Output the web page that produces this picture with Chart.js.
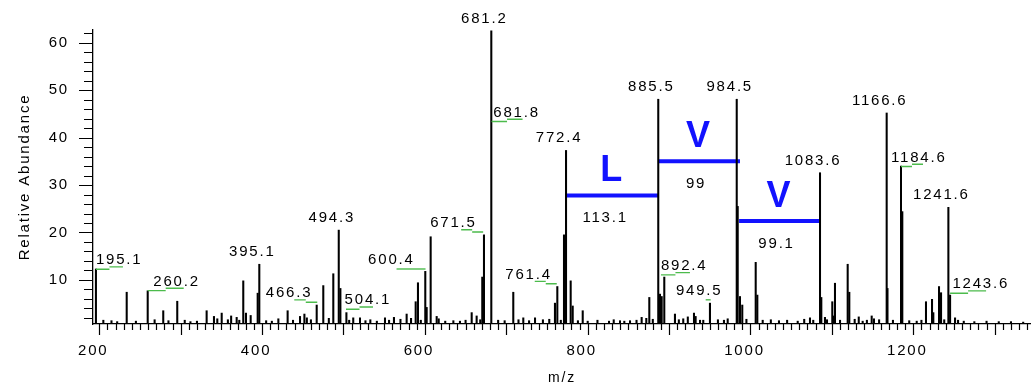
<!DOCTYPE html>
<html>
<head>
<meta charset="utf-8">
<script src="https://cdn.jsdelivr.net/npm/chart.js@4.4.1/dist/chart.umd.min.js"></script>
<style>
    html, body { margin: 0; padding: 0; background: #fff; overflow: hidden; }
</style>
</head>
<body>
<canvas id="spectrum" width="1031" height="384"></canvas>
<script>
// MS/MS spectrum, values

// Main peaks (m/z, relative abundance)
const peakMz = [195.9, 233.7, 259.5, 278.6, 295.8, 331.9, 340.9, 350.4, 368.8, 376.9, 380.2, 394.6, 396.6,
    431.4, 446.6, 467.1, 475.2, 487.5, 494.2, 496.2, 503.6, 512, 520.3, 551, 562, 577.6, 588.7, 591.5,
    600.5, 602.2, 607.1, 614.5, 643.1, 657.5, 663.6, 670.5, 672.6, 681.6, 708.6, 720.9, 735.3, 752.8,
    759.8, 762.7, 770.9, 773.4, 779.1, 781.6, 793.9, 826.2, 839.7, 852, 866.3, 875.7, 886.7, 888.8,
    890.9, 894.1, 907.2, 917.4, 930.6, 932.6, 942, 950.2, 967.4, 983.1, 984.3, 987.1, 989.9, 1006.4,
    1008.4, 1073.1, 1077.1, 1085.4, 1087, 1091.5, 1100.5, 1102.6, 1103.8, 1119.4, 1121.4, 1137.8,
    1148.9, 1151.7, 1167.3, 1168.3, 1184.9, 1186.5, 1204.2, 1215.6, 1223, 1224.6, 1231.6, 1234.1,
    1243.1, 1245.2, 1251.3];
const peakInt = [12.3, 7.4, 7.7, 3.5, 5.5, 3.5, 2.3, 3.0, 2.1, 9.8, 3.0, 7.2, 13.3,
    3.5, 2.3, 4.7, 8.8, 11.3, 20.5, 8.2, 3.1, 2.0, 2.0, 2.0, 2.1, 2.8, 5.4, 9.4,
    11.8, 4.2, 19.1, 2.3, 1.3, 3.1, 2.4, 10.6, 19.5, 62.5, 7.4, 2.0, 2.0, 1.7,
    5.1, 8.6, 19.5, 37.3, 9.8, 4.5, 3.5, 1.3, 1.4, 1.4, 2.1, 6.3, 48.1, 7.0,
    6.5, 10.6, 2.8, 1.8, 3.0, 2.3, 1.5, 5.1, 1.5, 48.1, 25.5, 6.5, 4.7, 13.7,
    6.8, 2.0, 1.5, 32.6, 6.3, 2.1, 5.4, 2.4, 9.3, 13.3, 7.4, 1.3,
    2.4, 1.8, 45.2, 8.2, 34.0, 24.4, 1.3, 5.4, 5.9, 3.1, 8.6, 7.3,
    25.3, 6.8, 2.0];

// Small baseline peaks
const noiseMz = [205, 215, 222, 245, 268, 285, 305, 312, 320, 345, 358, 362, 372, 386, 405, 412, 420, 438,
    452, 455, 460, 482, 507, 527, 533, 541, 556, 570, 583, 595, 617, 625, 635, 650, 668, 690, 698, 715,
    728, 745, 767, 788, 800, 812, 832, 845, 860, 872, 880, 912, 923, 938, 960, 972, 995, 1015, 1025,
    1035, 1045, 1058, 1066, 1094, 1110, 1128, 1133, 1143, 1158, 1175, 1195, 1210, 1238, 1255, 1262,
    1275, 1290, 1305, 1320, 1335];
const noiseInt = [1.5, 1.4, 1.2, 1.3, 1.6, 1.4, 1.5, 1.2, 1.3, 1.8, 1.6, 2.4, 1.5, 2.5, 1.4, 1.3, 1.8, 1.5,
    2.8, 2.0, 1.6, 1.9, 1.5, 1.4, 1.6, 1.3, 1.5, 1.7, 1.9, 1.5, 1.8, 1.3, 1.4, 1.5, 1.6, 1.5, 1.4, 1.6,
    1.4, 1.6, 1.5, 1.4, 1.3, 1.5, 1.6, 1.3, 1.5, 1.9, 1.7, 1.6, 2.2, 1.5, 1.6, 1.8, 1.7, 1.5, 1.6,
    1.4, 1.5, 1.3, 1.7, 1.6, 1.5, 1.7, 2.2, 1.5, 1.6, 1.5, 1.4, 1.5, 1.6, 1.5, 1.3,
    1.2, 1.3, 1.2, 1.2, 1.1];

// Labels sitting straight above their peak
const topLabels = ['681.2', '772.4', '885.5', '984.5', '1083.6', '1166.6', '1241.6', '494.3', '395.1'];
const topLabelMz = [681.6, 773.4, 886.7, 983.1, 1085.4, 1167.3, 1243.1, 494.2, 396.6];
const topLabelInt = [62.5, 37.3, 48.1, 48.1, 32.6, 45.2, 25.3, 20.5, 13.3];

// Labels joined to their peak by a green leader
const leaderLabels = ['195.1', '260.2', '466.3', '504.1', '600.4', '671.5', '681.8', '761.4', '892.4', '949.5', '1184.6', '1243.6'];
const leaderMz = [195.9, 259.5, 467.8, 503.1, 600.8, 671.6, 681.9, 762.0, 890.0, 951.1, 1184.9, 1245.2];
const leaderInt = [12.26, 7.74, 5.3, 3.8, 12.3, 20.1, 43.4, 9.2, 11.05, 5.8, 33.9, 7.2];
// side: which way the leader runs from the peak, dx: text offset, len: leader length (px)
const leaderPlace = [
    { side: 1, dx: 0, len: 27, step: true },
    { side: 1, dx: 5.6, len: 36, step: true },
    { side: -1, dx: -6.7, len: 23, step: true },
    { side: 1, dx: -1.4, len: 27, step: true },
    { side: -1, dx: -12.7, len: 29, step: false },
    { side: -1, dx: -8.3, len: 22, step: true },
    { side: 1, dx: 1.7, len: 31, step: true },
    { side: -1, dx: -6.7, len: 22, step: true },
    { side: 1, dx: 0, len: 29, step: true },
    { side: -1, dx: 10, len: 5, step: false },
    { side: 1, dx: -10, len: 22, step: true },
    { side: 1, dx: 2.3, len: 36, step: true }
];

// Sequence ladder
const seqResidues = ['L', 'V', 'V'];
const seqMass = ['113.1', '99', '99.1'];
const seqFrom = [773.4, 886.7, 986.0];
const seqTo = [886.7, 987.1, 1085.4];
const seqLevel = [27.8, 35.0, 22.4];
const seqMassShift = [-7, -3, -3];

// Axis ranges and tick labels
const xMin = 192.3, xMax = 1344.6;
const yMin = 0.7, yMax = 62.7;
const xTickLabels = [200, 400, 600, 800, 1000, 1200];
const yTickLabels = [10, 20, 30, 40, 50, 60];

const FONT = '"Liberation Sans", Arial, sans-serif';
const BLUE = '#1212ff';

Chart.defaults.color = '#000';
Chart.defaults.font.family = FONT;

// Extra drawing: minor/major tick marks, peak labels and the sequence text
const decorPlugin = {
    id: 'decor',
    beforeDraw(chart) {
        chart.ctx.letterSpacing = '1.8px';
    },
    afterDraw(chart) {
        const { ctx, scales: { x, y } } = chart;
        ctx.save();

        // tick marks
        ctx.strokeStyle = '#000';
        ctx.lineWidth = 1.2;
        ctx.beginPath();
        for (let v = 200; v <= xMax; v += 10) {
            const px = Math.round(x.getPixelForValue(v)) + 0.5;
            const len = v % 100 === 0 ? 11 : 6;
            ctx.moveTo(px, y.bottom);
            ctx.lineTo(px, y.bottom + len);
        }
        for (let v = 2; v <= yMax; v += 2) {
            const py = Math.round(y.getPixelForValue(v)) + 0.5;
            const len = v % 10 === 0 ? 14 : 9;
            ctx.moveTo(x.left, py);
            ctx.lineTo(x.left - len, py);
        }
        ctx.stroke();

        ctx.font = '15px ' + FONT;
        ctx.fillStyle = '#000';
        ctx.textBaseline = 'alphabetic';
        ctx.letterSpacing = '1.8px';

        // labels above peaks
        ctx.textAlign = 'center';
        topLabels.forEach((txt, i) => {
            const px = x.getPixelForValue(topLabelMz[i]);
            const py = y.getPixelForValue(topLabelInt[i]);
            ctx.fillText(txt, px - 7, py - 8);
        });

        // labels with green leaders
        leaderLabels.forEach((txt, i) => {
            const p = leaderPlace[i];
            const px = x.getPixelForValue(leaderMz[i]);
            const py = y.getPixelForValue(leaderInt[i]);
            ctx.strokeStyle = '#4cbb4c';
            ctx.lineWidth = 1.4;
            ctx.beginPath();
            if (p.step) {
                const h = p.len / 2;
                ctx.moveTo(px, py);
                ctx.lineTo(px + p.side * h, py);
                ctx.moveTo(px + p.side * h, py - 2.3);
                ctx.lineTo(px + p.side * p.len, py - 2.3);
            } else {
                ctx.moveTo(px, py);
                ctx.lineTo(px + p.side * p.len, py);
            }
            ctx.stroke();
            ctx.textAlign = p.side > 0 ? 'left' : 'right';
            ctx.fillText(txt, px + p.dx + (p.side < 0 ? 1.8 : 0), py - 5);
        });

        // residue letters and mass differences
        seqResidues.forEach((res, i) => {
            const mid = (x.getPixelForValue(seqFrom[i]) + x.getPixelForValue(seqTo[i])) / 2;
            const py = y.getPixelForValue(seqLevel[i]);
            ctx.textAlign = 'center';
            ctx.letterSpacing = '0px';
            ctx.font = 'bold 36px ' + FONT;
            ctx.fillStyle = BLUE;
            ctx.fillText(res, mid - 1, py - 14);
            ctx.letterSpacing = '1.8px';
            ctx.font = '15px ' + FONT;
            ctx.fillStyle = '#000';
            ctx.fillText(seqMass[i], mid + seqMassShift[i], py + 26.5);
        });

        ctx.restore();
    }
};

const seqDatasets = seqResidues.map((res, i) => ({
    type: 'line',
    label: res,
    data: [{ x: seqFrom[i], y: seqLevel[i] }, { x: seqTo[i], y: seqLevel[i] }],
    borderColor: BLUE,
    borderWidth: 4,
    borderCapStyle: 'butt',
    pointRadius: 0,
    fill: false
}));

// one bar dataset holding the main peaks and the baseline peaks
const stickData = peakMz.map((m, i) => ({ x: m, y: peakInt[i] }))
    .concat(noiseMz.map((m, i) => ({ x: m, y: noiseInt[i] })))
    .sort((a, b) => a.x - b.x);

new Chart(document.getElementById('spectrum'), {
    type: 'bar',
    data: {
        datasets: [
            {
                label: 'spectrum',
                data: stickData,
                backgroundColor: '#000',
                borderWidth: 0,
                barThickness: 1.4,
                clip: { left: 5, right: 0, top: 5, bottom: 0 }
            },
            ...seqDatasets
        ]
    },
    options: {
        responsive: false,
        animation: false,
        events: [],
        layout: { padding: { top: 30, right: 0, bottom: 0, left: 0 } },
        plugins: {
            legend: { display: false },
            tooltip: { enabled: false }
        },
        scales: {
            x: {
                type: 'linear',
                offset: false,
                min: xMin,
                max: xMax,
                grid: { display: false, drawTicks: false },
                border: { display: true, color: '#000', width: 1.3 },
                afterBuildTicks: scale => {
                    scale.ticks = xTickLabels.map(v => ({ value: v }));
                },
                ticks: {
                    autoSkip: false,
                    maxRotation: 0,
                    padding: 18,
                    labelOffset: -6,
                    font: { size: 15 },
                    callback: v => String(v)
                },
                title: {
                    display: true,
                    text: 'm/z',
                    font: { size: 14, lineHeight: 0.8 },
                    padding: 0
                },
                afterFit: scale => {
                    scale.height = 60;
                    scale.paddingLeft = 0;
                    scale.paddingRight = 0;
                }
            },
            y: {
                min: yMin,
                max: yMax,
                grid: { display: false, drawTicks: false },
                border: { display: true, color: '#000', width: 1.3 },
                afterBuildTicks: scale => {
                    scale.ticks = yTickLabels.map(v => ({ value: v }));
                },
                ticks: {
                    autoSkip: false,
                    padding: 24,
                    font: { size: 15 },
                    callback: v => String(v)
                },
                title: {
                    display: true,
                    text: 'Relative Abundance',
                    font: { size: 15, lineHeight: 1 },
                    padding: { top: 17, bottom: 0 }
                },
                afterFit: scale => {
                    scale.width = 93;
                    scale.paddingTop = 0;
                    scale.paddingBottom = 0;
                }
            }
        }
    },
    plugins: [decorPlugin]
});
</script>
</body>
</html>
